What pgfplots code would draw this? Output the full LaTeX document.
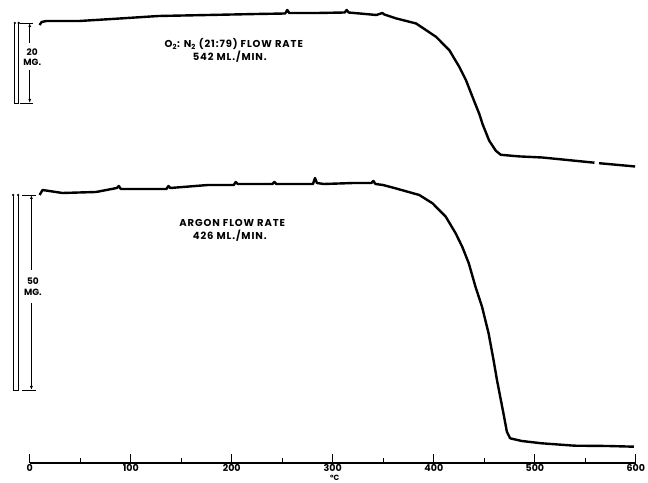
\documentclass[border=0pt]{standalone}
\usepackage{fontspec}
\setmainfont{Poppins}
\newfontfamily\wide[LetterSpace=9]{Poppins}
\usepackage{pgfplots}
\usepackage{pgfplotstable}
\pgfplotsset{compat=1.18}
\usetikzlibrary{arrows.meta}

% upper trace: O2:N2 (21:79), 542 ml/min  (T in deg C, w = pen position)
\pgfplotstableread{
T w
9.8 458
11.8 461
16.7 462
49.0 462
81.4 464
127.5 467
176.5 468
224.5 469
252.9 469.5
254.9 473
256.9 470
284.3 470
311.8 470.5
313.7 473
315.7 470.5
343.1 468
349.0 470
351.0 468.5
362.7 464.6
382.5 459.5
402.3 446.1
415.4 432.7
425.3 416
431.9 402.6
438.4 385.8
445.0 369.1
448.2 359
454.8 342.3
461.4 332.2
466.3 328.2
484.3 326.6
507.4 325.5
540.2 322.2
559.0 320.3
}\upperA
\pgfplotstableread{
T w
563.5 319.8
599.3 316.5
}\upperB

% lower trace: argon, 426 ml/min
\pgfplotstableread{
T w
9.8 288
12.7 293
32.4 290
65.7 291
86.3 295
88.2 297
90.2 294
135.3 294
137.3 297
139.2 295
176.5 298
202.0 298
203.9 301
205.9 299
240.2 299
242.2 301
244.1 299
264.7 299
280.4 299
282.4 305
284.3 300
291.2 299
320.6 300
338.2 300
340.2 302
342.2 299
349.7 298
362.7 294.5
385.6 288
398.7 279.7
411.8 266.3
421.6 249.7
428.1 236.3
434.6 219.7
441.2 196.3
447.7 176.3
454.2 149.7
459.1 123
462.5 103
465.7 86.3
468.9 69.7
472.3 51.3
475.5 44.7
487.0 42
506.6 39.7
539.2 37.3
571.9 37
598.0 36.3
}\argontrace

\begin{document}
\begin{tikzpicture}
\begin{axis}[
  scale only axis, width=606.2pt, height=463pt,
  xmin=0, xmax=600, ymin=20, ymax=483,
  axis y line=none, axis x line=bottom,
  x axis line style={-, line width=1.1pt},
  xtick={0,100,...,600}, minor xtick={50,150,...,550},
  tick align=inside, major tick length=9pt, minor tick length=5pt,
  every tick/.style={black, line width=1pt},
  xticklabel style={font=\fontsize{9.5}{10}\selectfont\bfseries, inner sep=1pt},
  /pgf/number format/assume math mode=true,
  clip=false,
]
\addplot[black, line width=2.4pt, line join=round] table[x=T, y=w] {\upperA};
\addplot[black, line width=2.4pt, line join=round] table[x=T, y=w] {\upperB};
\addplot[black, line width=2.4pt, line join=round] table[x=T, y=w] {\argontrace};

% weight scale bars
\begin{scope}[line width=0.8pt]
\draw (axis cs:-14.7,460) -- (axis cs:-14.7,380) -- (axis cs:-10.8,380) -- (axis cs:-10.8,460);
\fill (axis cs:-14.7,460) circle (1.3pt) (axis cs:-10.8,460) circle (1.3pt);
\draw (axis cs:-9.8,460) -- (axis cs:2.9,460) (axis cs:-9.8,380) -- (axis cs:2.9,380);
\draw[{Latex[length=4pt,width=3pt]}-] (axis cs:0,460) -- (axis cs:0,440);
\draw[-{Latex[length=4pt,width=3pt]}] (axis cs:0,413) -- (axis cs:0,380);
\draw (axis cs:-16.4,288) -- (axis cs:-16.4,93) -- (axis cs:-11.5,93) -- (axis cs:-11.5,288);
\fill (axis cs:-16.4,288) circle (1.3pt) (axis cs:-11.5,288) circle (1.3pt);
\draw (axis cs:-7.8,288) -- (axis cs:5.9,288) (axis cs:-7.8,93) -- (axis cs:5.9,93);
\draw[{Latex[length=4pt,width=3pt]}-] (axis cs:1.7,288) -- (axis cs:1.7,213);
\draw[-{Latex[length=4pt,width=3pt]}] (axis cs:1.7,180) -- (axis cs:1.7,93);
\end{scope}
\begin{scope}[every node/.style={font=\fontsize{9}{10}\selectfont\bfseries, inner sep=0pt}]
\node at (axis cs:2.5,431) {20};
\node at (axis cs:2.5,421) {MG.};
\node at (axis cs:3.2,202) {50};
\node at (axis cs:3.2,191) {MG.};
\end{scope}

\begin{scope}[every node/.style={font=\wide\fontsize{10}{11}\selectfont\bfseries, inner sep=0pt}]
\node at (axis cs:202,439) {O\textsubscript{2}: N\textsubscript{2} (21:79) FLOW RATE};
\node at (axis cs:198,426) {542 ML./MIN.};
\node at (axis cs:200.5,260) {ARGON FLOW RATE};
\node at (axis cs:198,247) {426 ML./MIN.};
\end{scope}
\node[font=\fontsize{7.5}{8}\selectfont\bfseries, inner sep=0pt, anchor=base] at (axis cs:302,2.5) {°C};

\coordinate (bl) at (axis cs:-29.4,0);
\coordinate (tr) at (axis cs:612,483);
\end{axis}
\pgfresetboundingbox
\useasboundingbox (bl) rectangle (tr);
\end{tikzpicture}
\end{document}
